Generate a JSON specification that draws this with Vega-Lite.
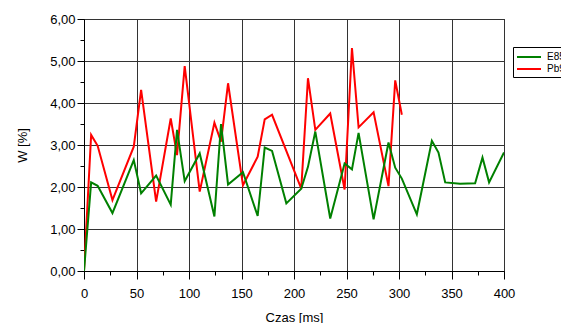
{
  "$schema": "https://vega.github.io/schema/vega-lite/v6.json",
  "width": 420,
  "height": 252,
  "autosize": "none",
  "padding": {"left": 84, "top": 19, "right": 57, "bottom": 52},
  "background": "white",
  "config": {
    "font": "Liberation Sans",
    "view": {"stroke": "#000", "strokeWidth": 1},
    "axis": {
      "domainColor": "#000",
      "tickColor": "#000",
      "labelColor": "#000",
      "titleColor": "#000",
      "labelFont": "Liberation Sans",
      "titleFont": "Liberation Sans",
      "labelFontSize": 13,
      "titleFontSize": 13,
      "titleFontWeight": "normal",
      "gridColor": "#333",
      "gridWidth": 1,
      "labelOverlap": false,
      "labelBound": false,
      "labelFlush": false
    }
  },
  "data": {
    "values": [
      {"t": 0, "w": 0, "s": "Pb95"},
      {"t": 6.8, "w": 3.24, "s": "Pb95"},
      {"t": 13, "w": 2.98, "s": "Pb95"},
      {"t": 27.1, "w": 1.69, "s": "Pb95"},
      {"t": 47.4, "w": 2.96, "s": "Pb95"},
      {"t": 54.4, "w": 4.31, "s": "Pb95"},
      {"t": 68.7, "w": 1.65, "s": "Pb95"},
      {"t": 82.6, "w": 3.63, "s": "Pb95"},
      {"t": 88.6, "w": 2.76, "s": "Pb95"},
      {"t": 95.9, "w": 4.88, "s": "Pb95"},
      {"t": 110.2, "w": 1.89, "s": "Pb95"},
      {"t": 124.2, "w": 3.53, "s": "Pb95"},
      {"t": 130.5, "w": 3.08, "s": "Pb95"},
      {"t": 137.2, "w": 4.47, "s": "Pb95"},
      {"t": 151.4, "w": 2.04, "s": "Pb95"},
      {"t": 165.4, "w": 2.72, "s": "Pb95"},
      {"t": 172.1, "w": 3.61, "s": "Pb95"},
      {"t": 179.1, "w": 3.72, "s": "Pb95"},
      {"t": 206.9, "w": 1.96, "s": "Pb95"},
      {"t": 213.3, "w": 4.59, "s": "Pb95"},
      {"t": 220.3, "w": 3.36, "s": "Pb95"},
      {"t": 234.5, "w": 3.75, "s": "Pb95"},
      {"t": 248.2, "w": 1.94, "s": "Pb95"},
      {"t": 255.2, "w": 5.31, "s": "Pb95"},
      {"t": 261.5, "w": 3.42, "s": "Pb95"},
      {"t": 275.8, "w": 3.78, "s": "Pb95"},
      {"t": 290.0, "w": 2.02, "s": "Pb95"},
      {"t": 296.4, "w": 4.54, "s": "Pb95"},
      {"t": 302.7, "w": 3.72, "s": "Pb95"},
      {"t": 0, "w": 0, "s": "E85"},
      {"t": 6.8, "w": 2.11, "s": "E85"},
      {"t": 13, "w": 2.03, "s": "E85"},
      {"t": 27.1, "w": 1.38, "s": "E85"},
      {"t": 47.4, "w": 2.64, "s": "E85"},
      {"t": 54.4, "w": 1.85, "s": "E85"},
      {"t": 68.7, "w": 2.27, "s": "E85"},
      {"t": 82.6, "w": 1.58, "s": "E85"},
      {"t": 88.6, "w": 3.36, "s": "E85"},
      {"t": 95.9, "w": 2.14, "s": "E85"},
      {"t": 110.2, "w": 2.80, "s": "E85"},
      {"t": 124.2, "w": 1.30, "s": "E85"},
      {"t": 130.5, "w": 3.50, "s": "E85"},
      {"t": 137.2, "w": 2.06, "s": "E85"},
      {"t": 151.4, "w": 2.35, "s": "E85"},
      {"t": 165.4, "w": 1.31, "s": "E85"},
      {"t": 172.1, "w": 2.94, "s": "E85"},
      {"t": 179.1, "w": 2.86, "s": "E85"},
      {"t": 192.7, "w": 1.61, "s": "E85"},
      {"t": 206.9, "w": 1.96, "s": "E85"},
      {"t": 213.3, "w": 2.48, "s": "E85"},
      {"t": 220.3, "w": 3.32, "s": "E85"},
      {"t": 234.5, "w": 1.25, "s": "E85"},
      {"t": 248.2, "w": 2.56, "s": "E85"},
      {"t": 255.2, "w": 2.42, "s": "E85"},
      {"t": 261.5, "w": 3.29, "s": "E85"},
      {"t": 275.8, "w": 1.23, "s": "E85"},
      {"t": 290.0, "w": 3.06, "s": "E85"},
      {"t": 296.4, "w": 2.46, "s": "E85"},
      {"t": 302.7, "w": 2.20, "s": "E85"},
      {"t": 317.0, "w": 1.35, "s": "E85"},
      {"t": 331.3, "w": 3.10, "s": "E85"},
      {"t": 337.6, "w": 2.82, "s": "E85"},
      {"t": 344.0, "w": 2.11, "s": "E85"},
      {"t": 358.2, "w": 2.08, "s": "E85"},
      {"t": 372.5, "w": 2.09, "s": "E85"},
      {"t": 379.5, "w": 2.70, "s": "E85"},
      {"t": 385.8, "w": 2.11, "s": "E85"},
      {"t": 400, "w": 2.82, "s": "E85"}
    ]
  },
  "mark": {"type": "line", "strokeWidth": 2, "clip": true},
  "encoding": {
    "x": {
      "field": "t",
      "type": "quantitative",
      "scale": {"domain": [0, 400], "nice": false, "zero": false},
      "axis": {
        "title": "Czas [ms]",
        "values": [0, 25, 50, 75, 100, 125, 150, 175, 200, 225, 250, 275, 300, 325, 350, 375, 400],
        "labelExpr": "datum.value % 50 == 0 ? format(datum.value, 'd') : ''",
        "tickSize": {"condition": {"test": "datum.value % 50 == 0", "value": 8}, "value": 4},
        "gridOpacity": {"condition": {"test": "datum.value % 50 == 0", "value": 1}, "value": 0},
        "labelPadding": 8,
        "titlePadding": 11
      }
    },
    "y": {
      "field": "w",
      "type": "quantitative",
      "scale": {"domain": [0, 6], "nice": false},
      "axis": {
        "title": "W [%]",
        "values": [0, 0.5, 1, 1.5, 2, 2.5, 3, 3.5, 4, 4.5, 5, 5.5, 6],
        "labelExpr": "datum.value % 1 == 0 ? replace(format(datum.value, '.2f'), '.', ',') : ''",
        "tickSize": {"condition": {"test": "datum.value % 1 == 0", "value": 7}, "value": 4},
        "gridOpacity": {"condition": {"test": "datum.value % 1 == 0", "value": 1}, "value": 0},
        "labelPadding": 2,
        "titlePadding": 20
      }
    },
    "color": {
      "field": "s",
      "type": "nominal",
      "scale": {"domain": ["E85", "Pb95"], "range": ["#008000", "#ff0000"]},
      "legend": {
        "title": null,
        "orient": "none",
        "legendX": 429,
        "legendY": 28,
        "symbolType": "M-1,0H3",
        "symbolSize": 144,
        "symbolStrokeWidth": 2,
        "symbolFillColor": "transparent",
        "labelFontSize": 10,
        "labelFont": "Liberation Sans",
        "labelColor": "#000",
        "labelOffset": 17,
        "rowPadding": 0,
        "padding": 3,
        "strokeColor": "#000",
        "fillColor": "white"
      }
    }
  }
}
